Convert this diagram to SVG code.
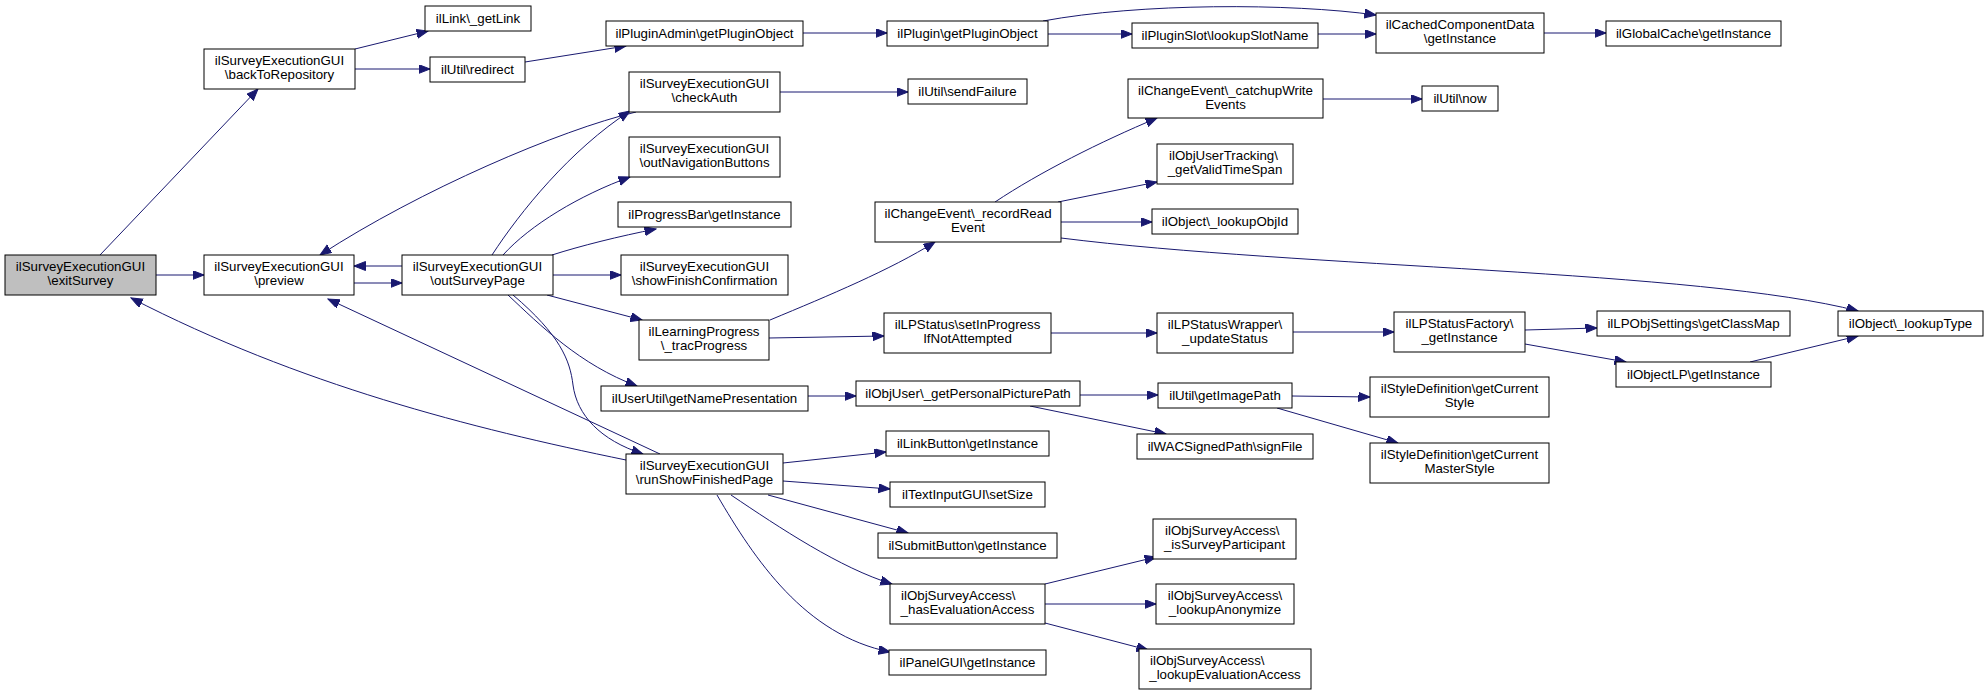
<svg xmlns="http://www.w3.org/2000/svg" width="1988" height="695" viewBox="0 0 1988 695">
<style>
.n rect{fill:#fff;stroke:#000;stroke-width:1}
.n text{font-family:"Liberation Sans",Arial,Helvetica,sans-serif;font-size:13.3px;fill:#000;text-anchor:middle}
.n text.l{text-anchor:start}
#edges path{fill:none;stroke:#191970;stroke-width:1;marker-end:url(#arr)}
</style>
<defs>
<marker id="arr" markerWidth="13" markerHeight="10" refX="11.5" refY="4.5" orient="auto" markerUnits="userSpaceOnUse"><path d="M0,0 L11.5,4.5 L0,9 z" fill="#191970" stroke="#191970" stroke-width="1"/></marker>
</defs>
<rect width="1988" height="695" fill="#fff"/>
<g id="edges">
<path d="M100,255 L258,89"/>
<path d="M156,275 L204,275"/>
<path d="M354,283 L402,283"/>
<path d="M402,266 L354,266"/>
<path d="M636,112 C560,130 420,190 320,255"/>
<path d="M492,255 C520,212 570,150 630,111"/>
<path d="M503,255 C530,225 580,195 630,177"/>
<path d="M552,255 C580,246 620,236 656,229"/>
<path d="M553,275 L621,275"/>
<path d="M547,295 L642,320"/>
<path d="M508,295 C540,325 580,365 637,386"/>
<path d="M513,295 C560,335 570,360 573,385 C577,415 600,440 643,454"/>
<path d="M660,454 L328,299"/>
<path d="M626,460 C470,428 300,385 131,298"/>
<path d="M355,49 L428,31"/>
<path d="M355,69 L430,69"/>
<path d="M525,62 L626,46"/>
<path d="M803,33 L887,33"/>
<path d="M1048,34 L1132,34"/>
<path d="M1043,21 C1140,3 1290,3 1376,15"/>
<path d="M1318,34 L1376,34"/>
<path d="M1544,33 L1606,33"/>
<path d="M780,92 L908,92"/>
<path d="M995,202 C1040,172 1100,142 1157,118"/>
<path d="M1058,202 L1157,182"/>
<path d="M1061,222 L1152,222"/>
<path d="M1061,238 C1300,268 1700,270 1858,311"/>
<path d="M1323,99 L1422,99"/>
<path d="M770,320 C830,295 890,270 935,242"/>
<path d="M769,338 L884,336"/>
<path d="M1051,333 L1157,333"/>
<path d="M1293,332 L1394,332"/>
<path d="M1525,330 L1597,328"/>
<path d="M1525,344 L1626,362"/>
<path d="M1750,362 L1858,336"/>
<path d="M808,396 L856,396"/>
<path d="M1080,395 L1158,395"/>
<path d="M1030,406 L1166,434"/>
<path d="M1292,396 L1370,397"/>
<path d="M1277,408 L1398,443"/>
<path d="M783,463 L886,452"/>
<path d="M783,481 L890,489"/>
<path d="M768,495 L908,533"/>
<path d="M731,495 C780,528 840,568 892,584"/>
<path d="M717,495 C755,560 805,635 890,652"/>
<path d="M1045,584 L1156,557"/>
<path d="M1045,604 L1156,604"/>
<path d="M1045,623 L1148,650"/>
</g>
<g id="exitSurvey" class="n"><rect x="5" y="255" width="151" height="40" style="fill:#bfbfbf"/><text x="80.5" y="271">ilSurveyExecutionGUI</text><text x="80.5" y="285">\exitSurvey</text></g>
<g id="backToRepository" class="n"><rect x="204" y="49" width="151" height="40"/><text x="279.5" y="65">ilSurveyExecutionGUI</text><text x="279.5" y="79">\backToRepository</text></g>
<g id="preview" class="n"><rect x="204" y="255" width="150" height="40"/><text x="279" y="271">ilSurveyExecutionGUI</text><text x="279" y="285">\preview</text></g>
<g id="outSurveyPage" class="n"><rect x="402" y="255" width="151" height="40"/><text x="477.5" y="271">ilSurveyExecutionGUI</text><text x="477.5" y="285">\outSurveyPage</text></g>
<g id="getLink" class="n"><rect x="425" y="6" width="106" height="25"/><text x="478" y="23">ilLink\_getLink</text></g>
<g id="redirect" class="n"><rect x="430" y="57" width="95" height="25"/><text x="477.5" y="74">ilUtil\redirect</text></g>
<g id="pluginAdmin" class="n"><rect x="606" y="21" width="197" height="25"/><text x="704.5" y="38">ilPluginAdmin\getPluginObject</text></g>
<g id="plugin" class="n"><rect x="887" y="21" width="161" height="25"/><text x="967.5" y="38">ilPlugin\getPluginObject</text></g>
<g id="pluginSlot" class="n"><rect x="1132" y="23" width="186" height="25"/><text x="1225" y="40">ilPluginSlot\lookupSlotName</text></g>
<g id="cachedComponentData" class="n"><rect x="1376" y="13" width="168" height="40"/><text x="1460" y="29">ilCachedComponentData</text><text x="1460" y="43">\getInstance</text></g>
<g id="globalCache" class="n"><rect x="1606" y="21" width="175" height="25"/><text x="1693.5" y="38">ilGlobalCache\getInstance</text></g>
<g id="checkAuth" class="n"><rect x="629" y="72" width="151" height="40"/><text x="704.5" y="88">ilSurveyExecutionGUI</text><text x="704.5" y="102">\checkAuth</text></g>
<g id="sendFailure" class="n"><rect x="908" y="79" width="119" height="25"/><text x="967.5" y="96">ilUtil\sendFailure</text></g>
<g id="outNavigationButtons" class="n"><rect x="629" y="137" width="151" height="40"/><text x="704.5" y="153">ilSurveyExecutionGUI</text><text x="704.5" y="167">\outNavigationButtons</text></g>
<g id="progressBar" class="n"><rect x="618" y="202" width="173" height="25"/><text x="704.5" y="219">ilProgressBar\getInstance</text></g>
<g id="showFinishConfirmation" class="n"><rect x="621" y="255" width="167" height="40"/><text x="704.5" y="271">ilSurveyExecutionGUI</text><text x="704.5" y="285">\showFinishConfirmation</text></g>
<g id="learningProgress" class="n"><rect x="639" y="320" width="130" height="40"/><text x="704" y="336">ilLearningProgress</text><text x="704" y="350">\_tracProgress</text></g>
<g id="userUtil" class="n"><rect x="601" y="386" width="207" height="25"/><text x="704.5" y="403">ilUserUtil\getNamePresentation</text></g>
<g id="runShowFinishedPage" class="n"><rect x="626" y="454" width="157" height="40"/><text x="704.5" y="470">ilSurveyExecutionGUI</text><text x="704.5" y="484">\runShowFinishedPage</text></g>
<g id="recordRead" class="n"><rect x="875" y="202" width="186" height="40"/><text x="968" y="218">ilChangeEvent\_recordRead</text><text x="968" y="232">Event</text></g>
<g id="catchupWrite" class="n"><rect x="1128" y="79" width="195" height="39"/><text x="1225.5" y="95">ilChangeEvent\_catchupWrite</text><text x="1225.5" y="109">Events</text></g>
<g id="utilNow" class="n"><rect x="1422" y="86" width="76" height="25"/><text x="1460" y="103">ilUtil\now</text></g>
<g id="objUserTracking" class="n"><rect x="1157" y="144" width="136" height="40"/><text class="l" x="1169" y="160">ilObjUserTracking\</text><text x="1225" y="174">_getValidTimeSpan</text></g>
<g id="lookupObjId" class="n"><rect x="1152" y="209" width="146" height="25"/><text x="1225" y="226">ilObject\_lookupObjId</text></g>
<g id="lookupType" class="n"><rect x="1838" y="311" width="145" height="25"/><text x="1910.5" y="328">ilObject\_lookupType</text></g>
<g id="lpStatus" class="n"><rect x="884" y="313" width="167" height="40"/><text x="967.5" y="329">ilLPStatus\setInProgress</text><text x="967.5" y="343">IfNotAttempted</text></g>
<g id="lpStatusWrapper" class="n"><rect x="1157" y="313" width="136" height="40"/><text x="1225" y="329">ilLPStatusWrapper\</text><text x="1225" y="343">_updateStatus</text></g>
<g id="lpStatusFactory" class="n"><rect x="1394" y="312" width="131" height="40"/><text x="1459.5" y="328">ilLPStatusFactory\</text><text x="1459.5" y="342">_getInstance</text></g>
<g id="lpObjSettings" class="n"><rect x="1597" y="311" width="193" height="25"/><text x="1693.5" y="328">ilLPObjSettings\getClassMap</text></g>
<g id="objectLP" class="n"><rect x="1616" y="362" width="155" height="25"/><text x="1693.5" y="379">ilObjectLP\getInstance</text></g>
<g id="objUser" class="n"><rect x="856" y="381" width="224" height="25"/><text x="968" y="398">ilObjUser\_getPersonalPicturePath</text></g>
<g id="getImagePath" class="n"><rect x="1158" y="383" width="134" height="25"/><text x="1225" y="400">ilUtil\getImagePath</text></g>
<g id="styleCurrent" class="n"><rect x="1370" y="377" width="179" height="40"/><text x="1459.5" y="393">ilStyleDefinition\getCurrent</text><text x="1459.5" y="407">Style</text></g>
<g id="wacSignedPath" class="n"><rect x="1137" y="434" width="176" height="25"/><text x="1225" y="451">ilWACSignedPath\signFile</text></g>
<g id="masterStyle" class="n"><rect x="1370" y="443" width="179" height="40"/><text x="1459.5" y="459">ilStyleDefinition\getCurrent</text><text x="1459.5" y="473">MasterStyle</text></g>
<g id="linkButton" class="n"><rect x="886" y="431" width="163" height="25"/><text x="967.5" y="448">ilLinkButton\getInstance</text></g>
<g id="textInputGUI" class="n"><rect x="890" y="482" width="155" height="25"/><text x="967.5" y="499">ilTextInputGUI\setSize</text></g>
<g id="submitButton" class="n"><rect x="878" y="533" width="179" height="25"/><text x="967.5" y="550">ilSubmitButton\getInstance</text></g>
<g id="hasEvaluationAccess" class="n"><rect x="890" y="584" width="155" height="40"/><text class="l" x="901" y="600">ilObjSurveyAccess\</text><text x="967.5" y="614">_hasEvaluationAccess</text></g>
<g id="panelGUI" class="n"><rect x="889" y="650" width="157" height="25"/><text x="967.5" y="667">ilPanelGUI\getInstance</text></g>
<g id="isSurveyParticipant" class="n"><rect x="1153" y="519" width="143" height="40"/><text class="l" x="1165" y="535">ilObjSurveyAccess\</text><text x="1224.5" y="549">_isSurveyParticipant</text></g>
<g id="lookupAnonymize" class="n"><rect x="1156" y="584" width="138" height="40"/><text x="1225" y="600">ilObjSurveyAccess\</text><text x="1225" y="614">_lookupAnonymize</text></g>
<g id="lookupEvaluationAccess" class="n"><rect x="1139" y="649" width="172" height="40"/><text class="l" x="1150" y="665">ilObjSurveyAccess\</text><text x="1225" y="679">_lookupEvaluationAccess</text></g>
</svg>
